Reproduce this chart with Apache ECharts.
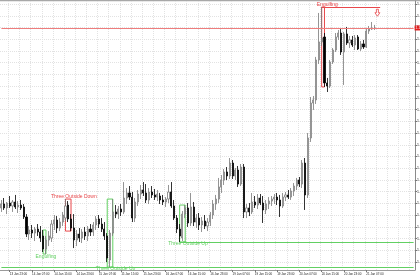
<!DOCTYPE html>
<html><head><meta charset="utf-8">
<script src="https://cdn.jsdelivr.net/npm/echarts@6/dist/echarts.min.js"></script>
<style>html,body{margin:0;padding:0;background:#fff}#c{width:420px;height:280px}</style>
</head><body><div id="c"></div>
<script>
// hourly bars, weekend skipped
const dayNames = ['13 Jan','14 Jan','15 Jan','16 Jan','19 Jan','20 Jan','21 Jan','22 Jan'];
const categories = [];
for (let d = 0; d < dayNames.length; d++) {
  const h0 = d === 0 ? 20 : 0, h1 = d === dayNames.length - 1 ? 0 : 23;
  for (let h = h0; h <= h1; h++) categories.push(dayNames[d] + ' ' + String(h).padStart(2,'0') + ':00');
}
// [open, close, low, high]
const ohlc = [
[1.16161,1.16195,1.16127,1.16229],[1.16195,1.16161,1.16144,1.16246],[1.16161,1.16203,1.16109,1.16212],[1.16203,1.16178,1.16161,1.16263],
[1.16178,1.16212,1.16127,1.16229],[1.16212,1.16169,1.16152,1.16272],[1.16169,1.16186,1.16118,1.16220],[1.16186,1.16161,1.16144,1.16229],
[1.16169,1.16084,1.16067,1.16195],[1.16084,1.15939,1.15913,1.16109],[1.15939,1.15973,1.15888,1.16007],[1.15973,1.15947,1.15905,1.16016],
[1.15947,1.15981,1.15879,1.15999],[1.15981,1.15956,1.15922,1.16024],[1.15956,1.15905,1.15871,1.16007],[1.15922,1.15811,1.15785,1.15973],
[1.15811,1.15888,1.15768,1.15922],[1.15888,1.15922,1.15836,1.15964],[1.15905,1.16024,1.15871,1.16058],[1.16024,1.16058,1.15973,1.16101],
[1.16058,1.15990,1.15947,1.16092],[1.15990,1.16041,1.15964,1.16075],[1.16041,1.16101,1.16007,1.16127],[1.16075,1.16178,1.16050,1.16237],
[1.16186,1.16067,1.16041,1.16220],[1.16067,1.15990,1.15964,1.16109],[1.15990,1.15888,1.15819,1.16109],[1.15888,1.15939,1.15836,1.15973],
[1.15939,1.15905,1.15871,1.15990],[1.15905,1.15956,1.15862,1.15981],[1.15956,1.15922,1.15888,1.15999],[1.15922,1.15981,1.15879,1.16007],
[1.15981,1.15956,1.15922,1.16024],[1.15956,1.16016,1.15922,1.16041],[1.16016,1.16067,1.15973,1.16092],[1.16067,1.16024,1.15990,1.16101],
[1.16024,1.15981,1.15956,1.16075],[1.15981,1.15922,1.15888,1.16041],[1.15922,1.15734,1.15700,1.15947],[1.15717,1.15947,1.15657,1.15973],
[1.15947,1.16127,1.15922,1.16237],[1.16127,1.16109,1.16075,1.16186],[1.16109,1.16152,1.16067,1.16178],[1.16152,1.16127,1.16092,1.16195],
[1.16127,1.16246,1.16109,1.16382],[1.16246,1.16289,1.16195,1.16331],[1.16289,1.16254,1.16229,1.16348],[1.16254,1.16075,1.16041,1.16297],
[1.16075,1.16212,1.16041,1.16246],[1.16212,1.16280,1.16178,1.16314],[1.16280,1.16314,1.16237,1.16357],[1.16314,1.16289,1.16263,1.16382],
[1.16289,1.16229,1.16203,1.16365],[1.16229,1.16297,1.16195,1.16331],[1.16297,1.16272,1.16246,1.16348],[1.16272,1.16254,1.16229,1.16323],
[1.16254,1.16280,1.16220,1.16314],[1.16263,1.16229,1.16195,1.16289],[1.16229,1.16212,1.16186,1.16272],[1.16212,1.16237,1.16169,1.16254],
[1.16237,1.16297,1.16203,1.16357],[1.16297,1.16178,1.16161,1.16382],[1.16178,1.16075,1.16058,1.16229],[1.16075,1.15981,1.15947,1.16101],
[1.15981,1.15922,1.15871,1.16024],[1.15905,1.16109,1.15879,1.16135],[1.16109,1.16161,1.16075,1.16186],[1.16161,1.16033,1.15999,1.16203],
[1.16033,1.16169,1.16007,1.16289],[1.16169,1.16041,1.16007,1.16212],[1.16041,1.16075,1.15990,1.16109],[1.16075,1.16016,1.15973,1.16118],
[1.16016,1.16050,1.15956,1.16084],[1.16050,1.16007,1.15981,1.16101],[1.16007,1.16041,1.15964,1.16075],[1.16041,1.16101,1.16007,1.16127],
[1.16101,1.16195,1.16067,1.16229],[1.16195,1.16237,1.16144,1.16272],[1.16237,1.16340,1.16203,1.16417],[1.16340,1.16399,1.16289,1.16442],
[1.16399,1.16468,1.16357,1.16493],[1.16468,1.16434,1.16399,1.16510],[1.16434,1.16544,1.16408,1.16587],[1.16544,1.16434,1.16408,1.16570],
[1.16434,1.16485,1.16399,1.16502],[1.16485,1.16365,1.16340,1.16519],[1.16365,1.16510,1.16348,1.16536],[1.16510,1.16127,1.16075,1.16536],
[1.16127,1.16161,1.16075,1.16195],[1.16161,1.16127,1.16092,1.16203],[1.16127,1.16212,1.16109,1.16289],[1.16212,1.16186,1.16161,1.16263],
[1.16186,1.16246,1.16152,1.16280],[1.16246,1.16203,1.16186,1.16280],[1.16203,1.16144,1.16033,1.16263],[1.16144,1.16195,1.16109,1.16229],
[1.16195,1.16220,1.16152,1.16254],[1.16220,1.16237,1.16178,1.16263],[1.16237,1.16254,1.16195,1.16280],[1.16254,1.16229,1.16186,1.16289],
[1.16229,1.16178,1.16084,1.16272],[1.16178,1.16254,1.16161,1.16289],[1.16254,1.16272,1.16220,1.16297],[1.16272,1.16254,1.16237,1.16314],
[1.16254,1.16306,1.16229,1.16331],[1.16306,1.16348,1.16263,1.16374],[1.16348,1.16399,1.16314,1.16417],[1.16399,1.16365,1.16340,1.16425],
[1.16365,1.16544,1.16331,1.16570],[1.16544,1.16272,1.16144,1.16587],[1.16272,1.16758,1.16246,1.16800],[1.16758,1.17056,1.16724,1.17107],
[1.17056,1.17082,1.16997,1.17116],[1.17082,1.17423,1.17048,1.17449],[1.17423,1.17577,1.17389,1.17824],[1.17577,1.17611,1.17543,1.17875],
[1.17619,1.17227,1.17193,1.17653],[1.17227,1.17201,1.17150,1.17270],[1.17201,1.17406,1.17184,1.17423],[1.17406,1.17508,1.17389,1.17525],
[1.17508,1.17619,1.17491,1.17653],[1.17619,1.17653,1.17594,1.17679],[1.17653,1.17491,1.17466,1.17687],[1.17491,1.17645,1.17210,1.17662],
[1.17645,1.17568,1.17551,1.17705],[1.17568,1.17594,1.17525,1.17628],[1.17594,1.17551,1.17534,1.17628],[1.17551,1.17611,1.17508,1.17636],
[1.17619,1.17517,1.17508,1.17636],[1.17517,1.17560,1.17500,1.17585],[1.17560,1.17534,1.17517,1.17594],[1.17534,1.17670,1.17525,1.17696],
[1.17670,1.17687,1.17645,1.17713],[1.17687,1.17696,1.17679,1.17747],[1.17696,1.17696,1.17679,1.17722]
];
const yTicks = [1.157,1.158,1.159,1.160,1.161,1.162,1.163,1.164,1.165,1.166,1.167,1.168,1.169,1.170,1.171,1.172,1.173,1.174,1.175,1.176,1.177,1.178,1.179];
const yMin = 1.15632, yMax = 1.17926;
const currentPrice = 1.17696;
const patternNames = ['Engulfing','Three Outside Down','Three Outside Up','Three Outside Up','Engulfing'];
const patternFrom = [15, 23, 38, 64, 115];
const patternTo = [16, 25, 40, 66, 116];
const patternTop = [1.15973, 1.16237, 1.16237, 1.16186, 1.17875];
const patternBottom = [1.15768, 1.15964, 1.15657, 1.15871, 1.17193];
const patternBull = [true, false, true, true, false];
const labelBar = [16, 26, 41, 67, 117];
const labelPrice = [1.15743, 1.16254, 1.15641, 1.15854, 1.17897];
const levelFrom = [0, 64, 115];
const levelTo = [148, 148, 136];
const levelPrice = [1.15657, 1.15871, 1.17875];
const levelBull = [true, true, false];
const arrowBar = 135, arrowPrice = 1.17826;

const GREEN = '#62d062', RED = '#e8474a';
const markAreaData = patternNames.map((n, i) => [
  {coord: [categories[patternFrom[i]], patternTop[i]], itemStyle: {color: 'rgba(0,0,0,0)', borderColor: patternBull[i] ? GREEN : RED, borderWidth: 1}},
  {coord: [categories[patternTo[i]], patternBottom[i]]}
]);
const markLineData = [[
  {coord: [categories[0], currentPrice], lineStyle: {color: '#ee7d7d', width: 1.2, type: 'solid'},
   label: {show: true, position: 'end', distance: 1, formatter: currentPrice.toFixed(5), color: '#fff', backgroundColor: '#e02020', fontSize: 3.5, padding: [0.5, 1], fontFamily: 'Liberation Sans'}},
  {coord: [categories[categories.length - 1], currentPrice]}
]].concat(levelFrom.map((f, i) => [
  {coord: [categories[f], levelPrice[i]], lineStyle: {color: levelBull[i] ? GREEN : RED, width: 1, type: 'solid'}, label: {show: false}},
  {coord: [categories[levelTo[i]], levelPrice[i]]}
]));
const markPointData = patternNames.map((n, i) => ({
  coord: [categories[labelBar[i]], labelPrice[i]], symbol: 'circle', symbolSize: 0,
  label: {show: true, position: 'inside', formatter: n, color: patternBull[i] ? GREEN : RED, fontSize: 5, fontFamily: 'Liberation Sans'}
})).concat([{
  coord: [categories[arrowBar], arrowPrice],
  symbol: 'path://M3,0 L7,0 L7,6 L10,6 L5,12 L0,6 L3,6 Z', symbolSize: [5, 7],
  itemStyle: {color: '#fff', borderColor: RED, borderWidth: 0.8}, label: {show: false}
}]);

const chart = echarts.init(document.getElementById('c'), null, {renderer: 'canvas'});
const labelShown = idx => idx % 8 === 3 && idx < 139;
chart.setOption({
  animation: false,
  backgroundColor: '#ffffff',
  grid: {left: 0, right: 5, top: 1, bottom: 10, containLabel: false, outerBoundsMode: 'none'},
  xAxis: {
    type: 'category', data: categories, boundaryGap: true,
    axisLine: {show: true, lineStyle: {color: '#9a9a9a', width: 1}},
    axisTick: {show: true, interval: labelShown, alignWithLabel: true, length: 2, lineStyle: {color: '#777'}},
    axisLabel: {show: true, interval: labelShown, align: 'left', margin: 3, fontSize: 3, color: '#222', fontFamily: 'Liberation Sans', hideOverlap: false},
    splitLine: {show: true, interval: idx => idx % 4 === 3, lineStyle: {color: '#e2e2e2', width: 1, type: [1, 1]}}
  },
  yAxis: {
    type: 'value', position: 'right', min: yMin, max: yMax, scale: true,
    axisLine: {show: true, lineStyle: {color: '#8a8a8a', width: 1}},
    axisTick: {show: true, customValues: yTicks, length: 2, inside: false, lineStyle: {color: '#777'}},
    axisLabel: {show: true, customValues: yTicks, margin: 2, fontSize: 3.5, color: '#222', fontFamily: 'Liberation Sans', formatter: v => v.toFixed(5)},
    splitLine: {show: true, lineStyle: {color: '#e2e2e2', width: 1, type: [1, 1]}}
  },
  series: [{
    type: 'candlestick', data: ohlc, barWidth: 1.6,
    itemStyle: {color: '#ffffff', color0: '#000000', borderColor: '#7a7a7a', borderColor0: '#000000', borderWidth: 0.8},
    markArea: {silent: true, data: markAreaData},
    markLine: {silent: true, symbol: ['none', 'none'], data: markLineData},
    markPoint: {silent: true, data: markPointData}
  }],
  graphic: [{type: 'line', shape: {x1: 0, y1: 0.5, x2: 420, y2: 0.5}, style: {stroke: '#a8a8a8', lineWidth: 1.5}, silent: true}]
});
</script></body></html>
